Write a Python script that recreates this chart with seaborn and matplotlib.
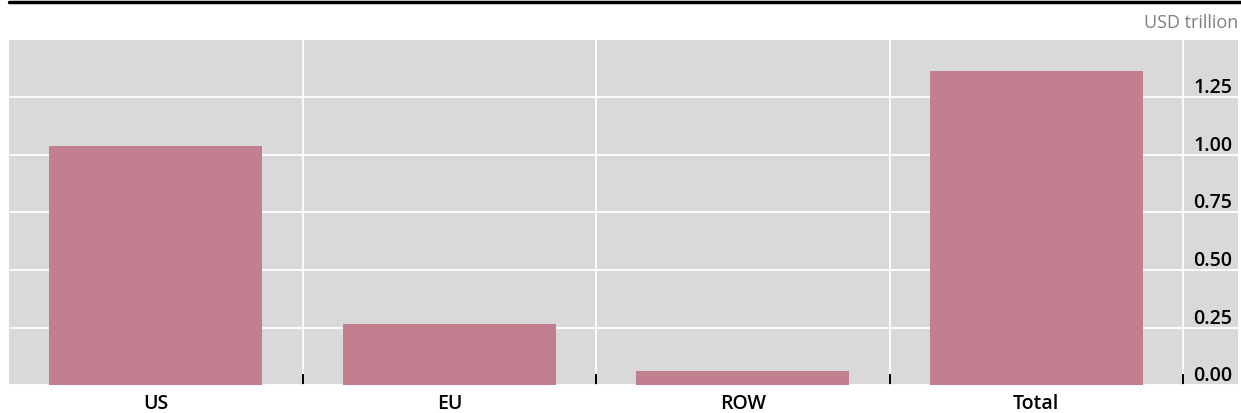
import numpy as np
import pandas as pd
import matplotlib.pyplot as plt
import seaborn as sns
from matplotlib.lines import Line2D

regions = ["US", "EU", "ROW", "Total"]
values = [1.04, 0.265, 0.06, 1.365]
y_ticks = [0.0, 0.25, 0.5, 0.75, 1.0, 1.25]
unit_label = "USD trillion"

df = pd.DataFrame({"region": regions, "value": values})

sns.set_theme(style="dark")
plt.rcParams["font.family"] = ["Open Sans", "DejaVu Sans"]

fig = plt.figure(figsize=(12.41, 4.14), dpi=100)
ax = fig.add_axes([0.0073, 0.0676, 0.9903, 0.8334])
ax.set_facecolor("#d9d9d9")

sns.barplot(data=df, x="region", y="value", color="#c27f8f", width=0.725,
            saturation=1, linewidth=0, ax=ax, zorder=3)

ax.set_xlim(-0.5, 3.687)
ax.set_ylim(0, 1.5)
ax.set_xlabel("")
ax.set_ylabel("")

# horizontal grid
ax.set_yticks(y_ticks)
ax.set_yticklabels([f"{v:.2f}" for v in y_ticks])
ax.yaxis.tick_right()
ax.tick_params(axis="y", length=0, pad=-4, labelsize=14, labelcolor="black")
for lab in ax.get_yticklabels():
    lab.set_horizontalalignment("right")
    lab.set_verticalalignment("bottom")
    lab.set_fontweight("semibold")
ax.grid(axis="y", color="white", linewidth=1.3, zorder=1)

# vertical separators between categories
ax.set_xticks([0.5, 1.5, 2.5, 3.5], minor=True)
ax.grid(axis="x", which="minor", color="white", linewidth=1.3, zorder=1)
ax.grid(axis="x", which="major", visible=False)
ax.tick_params(axis="x", which="minor", direction="in", length=8, width=1.4,
               color="black", bottom=True)
ax.tick_params(axis="x", which="major", length=0, pad=6, labelsize=14,
               labelcolor="black")
for lab in ax.get_xticklabels():
    lab.set_fontweight("semibold")
ax.set_axisbelow(True)

for s in ax.spines.values():
    s.set_visible(False)

# top rule and unit label
fig.add_artist(Line2D([0.0073, 1.0], [0.992, 0.992], color="black",
                      linewidth=2.5, transform=fig.transFigure))
fig.text(0.9975, 0.945, unit_label, ha="right", va="center",
         fontsize=13, color="#7f7f7f")

fig.savefig("out.png", dpi=100)
